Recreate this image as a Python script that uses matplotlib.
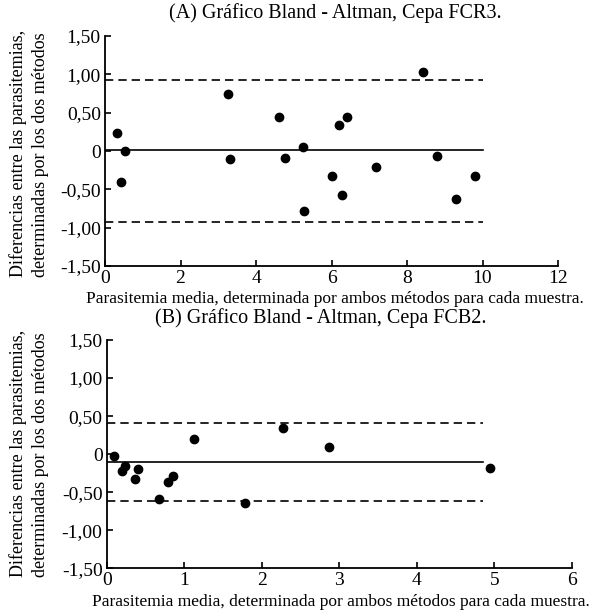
import numpy as np
import matplotlib
matplotlib.use('Agg')
import matplotlib.pyplot as plt

plt.rcParams['font.family'] = ['Liberation Serif', 'DejaVu Serif']

# Panel A - Cepa FCR3
a_media = [0.31, 0.42, 0.53, 3.27, 3.31, 4.60, 4.77, 5.24, 5.27, 6.00,
           6.20, 6.27, 6.42, 7.18, 8.43, 8.80, 9.30, 9.80]
a_dif = [0.24, -0.41, 0.00, 0.75, -0.11, 0.44, -0.09, 0.05, -0.78, -0.33,
         0.34, -0.57, 0.44, -0.21, 1.03, -0.06, -0.62, -0.33]
a_sesgo = 0.01
a_lim_sup = 0.92
a_lim_inf = -0.93
a_fin = 10

# Panel B - Cepa FCB2
b_media = [0.09, 0.20, 0.24, 0.36, 0.41, 0.67, 0.79, 0.86, 1.12, 1.78,
           2.27, 2.87, 4.95]
b_dif = [-0.02, -0.22, -0.15, -0.32, -0.20, -0.59, -0.36, -0.29, 0.20, -0.64,
         0.34, 0.10, -0.18]
b_sesgo = -0.10
b_lim_sup = 0.41
b_lim_inf = -0.62
b_fin = 4.85

y_ticks = [-1.5, -1.0, -0.5, 0, 0.5, 1.0, 1.5]
y_labels = ['-1,50', '-1,00', '-0,50', '0', '0,50', '1,00', '1,50']

W, H = 596, 610
fig = plt.figure(figsize=(W / 100, H / 100), dpi=100)


def panel(rect, media, dif, sesgo, sup, inf, fin, xmax, xticks):
    ax = fig.add_axes(rect)
    ax.scatter(media, dif, s=36, color='black', zorder=3, clip_on=False)
    ax.plot([0, fin], [sesgo, sesgo], color='black', lw=1.2)
    ax.plot([0, fin], [sup, sup], color='black', lw=1.2, dashes=(5, 3))
    ax.plot([0, fin], [inf, inf], color='black', lw=1.2, dashes=(5, 3))
    ax.set_xlim(0, xmax)
    ax.set_ylim(-1.5, 1.5)
    ax.set_xticks(xticks)
    ax.set_yticks(y_ticks)
    ax.set_yticklabels(y_labels)
    ax.spines['top'].set_visible(False)
    ax.spines['right'].set_visible(False)
    ax.spines['left'].set_linewidth(1.3)
    ax.spines['bottom'].set_linewidth(1.3)
    ax.tick_params(direction='in', length=4, width=1.2, labelsize=14)
    ax.tick_params(axis='x', pad=3)
    ax.tick_params(axis='y', pad=3)
    return ax


ax1 = panel([105 / W, 1 - 266 / H, 453 / W, 230 / H], a_media, a_dif,
            a_sesgo, a_lim_sup, a_lim_inf, a_fin, 12, [0, 2, 4, 6, 8, 10, 12])
ax2 = panel([106.7 / W, 1 - 568.3 / H, 465 / W, 228.3 / H], b_media, b_dif,
            b_sesgo, b_lim_sup, b_lim_inf, b_fin, 6, [0, 1, 2, 3, 4, 5, 6])

ylab = 'Diferencias entre las parasitemias,\ndeterminadas por los dos métodos'
xlab = 'Parasitemia media, determinada por ambos métodos para cada muestra.'

fig.text(335 / W, 1 - 13 / H, '(A) Gráfico Bland - Altman, Cepa FCR3.',
         ha='center', va='center', fontsize=14.5)
fig.text(321 / W, 1 - 318 / H, '(B) Gráfico Bland - Altman, Cepa FCB2.',
         ha='center', va='center', fontsize=14.5)
fig.text(335 / W, 1 - 299 / H, xlab, ha='center', va='center', fontsize=12.5)
fig.text(341 / W, 1 - 602 / H, xlab, ha='center', va='center', fontsize=12.5)
fig.text(29 / W, 1 - 277 / H, ylab, ha='center', va='bottom', rotation=90,
         fontsize=13, linespacing=1.4, multialignment='left')
fig.text(29 / W, 1 - 577 / H, ylab, ha='center', va='bottom', rotation=90,
         fontsize=13, linespacing=1.4, multialignment='left')

fig.savefig('out.png', dpi=100)
